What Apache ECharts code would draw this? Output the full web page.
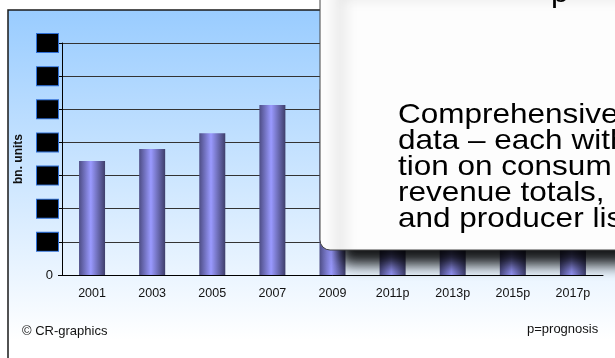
<!DOCTYPE html>
<html>
<head>
<meta charset="utf-8">
<script src="https://cdn.jsdelivr.net/npm/echarts@6/dist/echarts.min.js"></script>
<style>
  html, body { margin: 0; padding: 0; background: #fff; }
  #chart { width: 615px; height: 358px; }
</style>
</head>
<body>
<div id="chart"></div>
<script>
// categories and values (bn. units), later bars are hidden under the callout
const years = ["2001", "2003", "2005", "2007", "2009", "2011p", "2013p", "2015p", "2017p"];
const units = [3.44, 3.8, 4.28, 5.13, 5.6, 5.9, 6.2, 6.5, 6.8];
const yTicks = [0, 1, 2, 3, 4, 5, 6, 7];
const calloutLines = ["Comprehensive", "data – each with", "tion on consum", "revenue totals,", "and producer lis"];

const FONT = '"Liberation Sans", Arial, sans-serif';

const myChart = echarts.init(document.getElementById("chart"));

myChart.setOption({
  animation: false,
  grid: { left: 62, right: 12, top: 43, bottom: 83 },
  xAxis: {
    type: "category",
    data: years,
    axisLine: { lineStyle: { color: "#000", width: 1 } },
    axisTick: { length: 5, lineStyle: { color: "#000" } },
    axisLabel: { interval: 0, margin: 12, color: "#111", fontSize: 12.5, fontFamily: FONT },
  },
  yAxis: {
    type: "value",
    min: yTicks[0],
    max: yTicks[yTicks.length - 1],
    interval: 1,
    name: "bn. units",
    nameLocation: "middle",
    nameRotate: 90,
    nameGap: 29,
    nameTextStyle: { fontWeight: "bold", fontSize: 12, color: "#111", fontFamily: FONT },
    axisLine: { show: true, lineStyle: { color: "#000" } },
    axisTick: { show: true, length: 4, lineStyle: { color: "#000" } },
    axisLabel: {
      margin: 4,
      formatter: (v) => (v === 0 ? "{z|0}" : "{b|" + v + "}"),
      rich: {
        b: {
          backgroundColor: "#000",
          borderColor: "#2f6fd6",
          borderWidth: 1,
          width: 21,
          height: 18,
          align: "center",
          color: "#000",
          fontSize: 11,
        },
        z: { fontSize: 13, color: "#111", fontFamily: FONT, padding: [0, 5, 0, 0] },
      },
    },
    splitLine: { lineStyle: { color: "#333", width: 1 } },
  },
  series: [
    {
      type: "bar",
      data: units,
      barWidth: 26,
      itemStyle: {
        color: {
          type: "linear",
          x: 0, y: 0, x2: 1, y2: 0,
          colorStops: [
            { offset: 0, color: "#4d4d85" },
            { offset: 0.45, color: "#9a9aff" },
            { offset: 1, color: "#3e3e6a" },
          ],
        },
      },
    },
  ],
  graphic: [
    {
      // chart frame with sky gradient
      type: "rect",
      z: -10,
      shape: { x: 8, y: 10, width: 700, height: 500 },
      style: {
        fill: new echarts.graphic.LinearGradient(0, 0, 0, 1, [
          { offset: 0, color: "#99ccff" },
          { offset: 0.66, color: "#ffffff" },
        ]),
        stroke: "#1a1a1a",
        lineWidth: 1.5,
      },
    },
    {
      type: "text",
      z: 5,
      x: 22,
      y: 325,
      style: { text: "© CR-graphics", font: "13px " + FONT, fill: "#111" },
    },
    {
      type: "text",
      z: 5,
      x: 527,
      y: 323,
      style: { text: "p=prognosis", font: "13px " + FONT, fill: "#111" },
    },
    {
      // callout box over the chart
      type: "rect",
      z: 100,
      shape: { x: 320, y: -20, width: 330, height: 270, r: [0, 0, 0, 10] },
      style: {
        fill: "#fdfdfd",
        stroke: "#444",
        lineWidth: 1,
        shadowBlur: 14,
        shadowOffsetX: 20,
        shadowOffsetY: 14,
        shadowColor: "rgba(0,0,0,0.9)",
      },
    },
    {
      // callout text is a bit wide in the source, so stretch it
      type: "text",
      z: 101,
      x: 551,
      y: -19,
      scaleX: 1.125,
      style: { text: "p", font: "28px " + FONT, fill: "#000", lineHeight: 26 },
    },
    {
      type: "text",
      z: 101,
      x: 398,
      y: 102,
      scaleX: 1.125,
      style: { text: calloutLines.join("\n"), font: "28px " + FONT, fill: "#000", lineHeight: 26 },
    },
  ],
});
</script>
</body>
</html>
